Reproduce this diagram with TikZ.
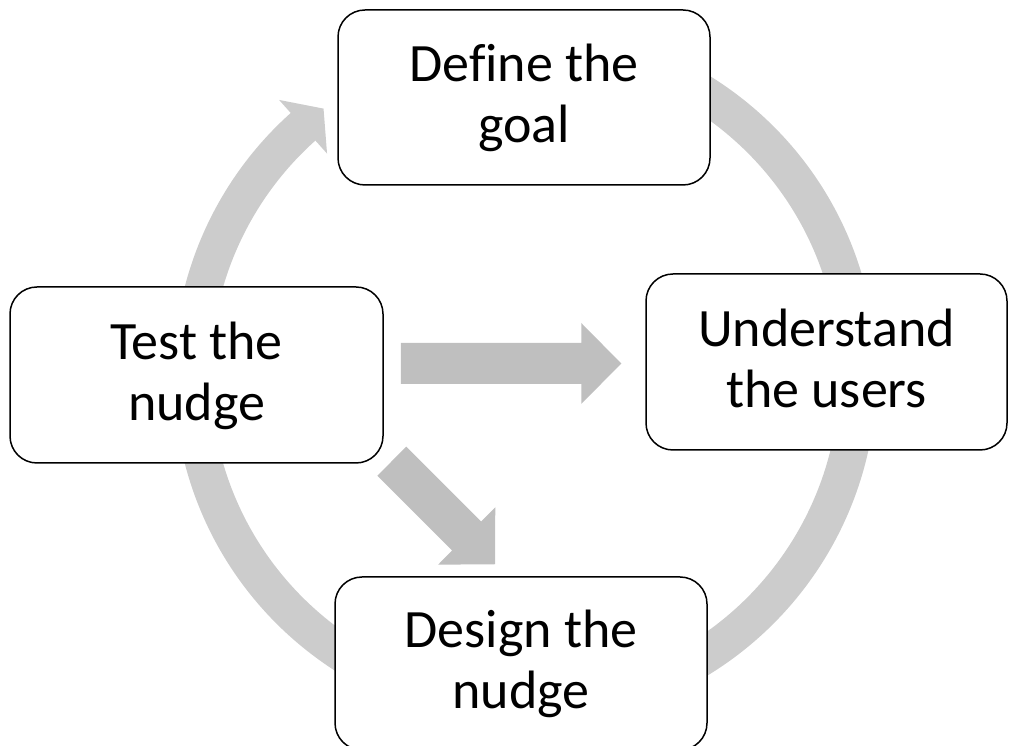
\documentclass[tikz,border=0pt]{standalone}
\usepackage{fontspec}
\setmainfont{Carlito}[Ligatures=NoCommon]
\usetikzlibrary{calc}
\definecolor{ringgray}{RGB}{204,204,204}
\definecolor{arrowgray}{RGB}{191,191,191}
% two centred lines with fixed line heights, so every box sets its text alike
\newcommand{\twolines}[2]{\rule{0pt}{46pt}#1\\#2\rule[-16pt]{0pt}{16pt}}
% a flat block arrow from coordinate #1 to its tip at coordinate #2
\newcommand{\blockarrow}[2]{%
  \coordinate (ba-base) at ($(#2)!40pt!(#1)$);
  \fill[arrowgray] ($(#1)!20.5pt!90:(#2)$) -- ($(ba-base)!20.5pt!90:(#2)$)
    -- ($(ba-base)!40.5pt!90:(#2)$) -- (#2)
    -- ($(ba-base)!40.5pt!-90:(#2)$) -- ($(ba-base)!20.5pt!-90:(#2)$)
    -- ($(#1)!20.5pt!-90:(#2)$) -- cycle;}

\begin{document}
\begin{tikzpicture}[x=1pt,y=1pt,
  stepbox/.style={draw=black, line width=1.5pt, fill=white,
    rounded corners=27pt, inner sep=0pt, align=center,
    font=\fontsize{54pt}{61pt}\selectfont},
  ring/.style={draw=ringgray, line width=37pt, line cap=butt}]
\useasboundingbox (0,0) rectangle (1009,746);
\clip (0,0) rectangle (1009,746);

% cycle ring with its arrowhead
\coordinate (c) at (525,371);
\draw[ring] ([shift={(c)}]100:333) arc[start angle=100, end angle=-228.4, radius=333];
\fill[ringgray] ([shift={(c)}]131.8:369) -- ([shift={(c)}]127.1:334)
  -- ([shift={(c)}]131.8:297) -- cycle;

% the four steps
\node[stepbox, minimum width=372pt, minimum height=175pt] (goal) at (524,648.5)
  {\twolines{Define the}{goal}};
\node[stepbox, minimum width=361pt, minimum height=176pt] (users) at (826.5,384)
  {\twolines{Understand}{the users}};
\node[stepbox, minimum width=372pt, minimum height=173pt] (design) at (521,82.5)
  {\twolines{Design the}{nudge}};
\node[stepbox, minimum width=373pt, minimum height=176pt] (test) at (196.5,371)
  {\twolines{Test the}{nudge}};

% block arrows leaving the test step
\coordinate (toUsersStart) at ($(test.east)+(17,11.5)$);
\coordinate (toUsersTip) at ($(users.west)+(-24,-1.5)$);
\coordinate (toDesignStart) at ($(test.south east)+(8,2.5)$);
\coordinate (toDesignTip) at ($(design.north)+(-26,12)$);
\blockarrow{toUsersStart}{toUsersTip}
\blockarrow{toDesignStart}{toDesignTip}
\end{tikzpicture}
\end{document}
